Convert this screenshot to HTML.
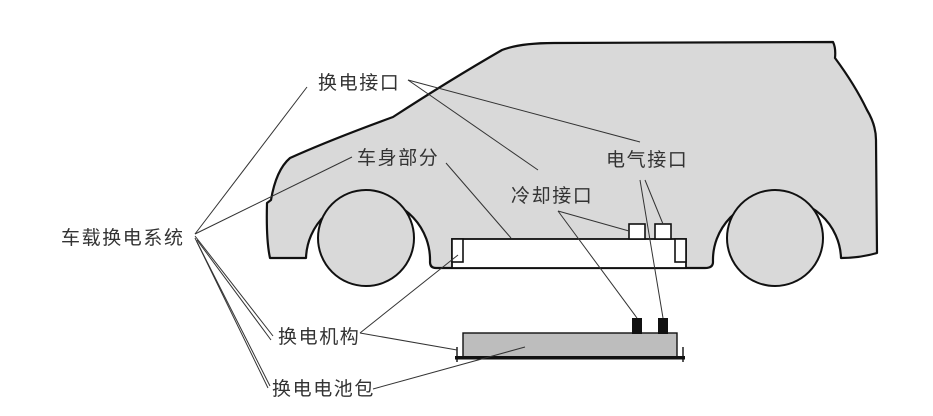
<!DOCTYPE html>
<html><head><meta charset="utf-8"><style>
html,body{margin:0;padding:0;background:#fff;}
svg{display:block;}
text{font-family:"Liberation Sans","Noto Sans CJK SC",sans-serif;font-size:19px;fill:#333;letter-spacing:1.6px;}
</style></head><body>
<svg width="933" height="416" viewBox="0 0 933 416" xmlns="http://www.w3.org/2000/svg">
<rect width="933" height="416" fill="#fff"/>
<path d="M306,258 L270,258 Q266,240 267,203 L271,200 Q276,170 290,158 Q330,140 393,117 Q450,80 502,50 Q520,43 554,43 L833,42 Q836,48 835,58 Q855,85 867,110 Q876,125 876,140 L877,253 Q860,258 841,258
A64,62 0 0 0 713,262 Q713,268 705,268 L436,268 Q430,268 430,262 A62,62 0 0 0 306,258 Z" fill="#d9d9d9" stroke="#111" stroke-width="2.2" stroke-linejoin="round"/>
<circle cx="366" cy="238" r="48" fill="#d9d9d9" stroke="#111" stroke-width="2"/>
<circle cx="775" cy="238" r="48" fill="#d9d9d9" stroke="#111" stroke-width="2"/>
<rect x="452" y="239" width="234" height="29" fill="#fff" stroke="#111" stroke-width="1.8"/>
<rect x="452" y="239" width="11" height="23" fill="#fff" stroke="#111" stroke-width="1.6"/>
<rect x="675" y="239" width="11" height="23" fill="#fff" stroke="#111" stroke-width="1.6"/>
<rect x="629" y="224" width="16" height="15" fill="#fff" stroke="#111" stroke-width="1.6"/>
<rect x="655" y="224" width="16" height="15" fill="#fff" stroke="#111" stroke-width="1.6"/>
<rect x="463" y="333" width="214" height="24" fill="#bdbdbd" stroke="#111" stroke-width="1.4"/>
<rect x="455" y="356" width="230" height="3.5" fill="#111"/>
<line x1="457" y1="347" x2="457" y2="362" stroke="#111" stroke-width="1.4"/>
<line x1="683" y1="347" x2="683" y2="362" stroke="#111" stroke-width="1.4"/>
<rect x="632" y="318" width="10" height="16" fill="#111"/>
<rect x="658" y="318" width="10" height="16" fill="#111"/>
<g stroke="#333" stroke-width="1" fill="none">
<line x1="195" y1="234" x2="307" y2="87"/>
<line x1="195" y1="234" x2="352" y2="157"/>
<line x1="195" y1="236" x2="273" y2="336"/>
<line x1="197" y1="240" x2="271" y2="340"/>
<line x1="195" y1="238" x2="268" y2="388"/>
<line x1="197" y1="242" x2="270" y2="386"/>
<line x1="408" y1="80" x2="538" y2="170"/>
<line x1="408" y1="80" x2="640" y2="142"/>
<line x1="446" y1="163" x2="511" y2="238"/>
<line x1="558" y1="211" x2="629" y2="231"/>
<line x1="558" y1="211" x2="637" y2="318"/>
<line x1="640" y1="180" x2="663" y2="318"/>
<line x1="645" y1="180" x2="663" y2="224"/>
<line x1="360" y1="333" x2="458" y2="255"/>
<line x1="360" y1="333" x2="457" y2="350"/>
<line x1="373" y1="389" x2="525" y2="347"/>
</g>
<text x="61" y="244">车载换电系统</text>
<text x="318" y="89">换电接口</text>
<text x="357" y="164">车身部分</text>
<text x="606" y="166">电气接口</text>
<text x="511" y="202">冷却接口</text>
<text x="278" y="343">换电机构</text>
<text x="272" y="395">换电电池包</text>
</svg>
</body></html>
